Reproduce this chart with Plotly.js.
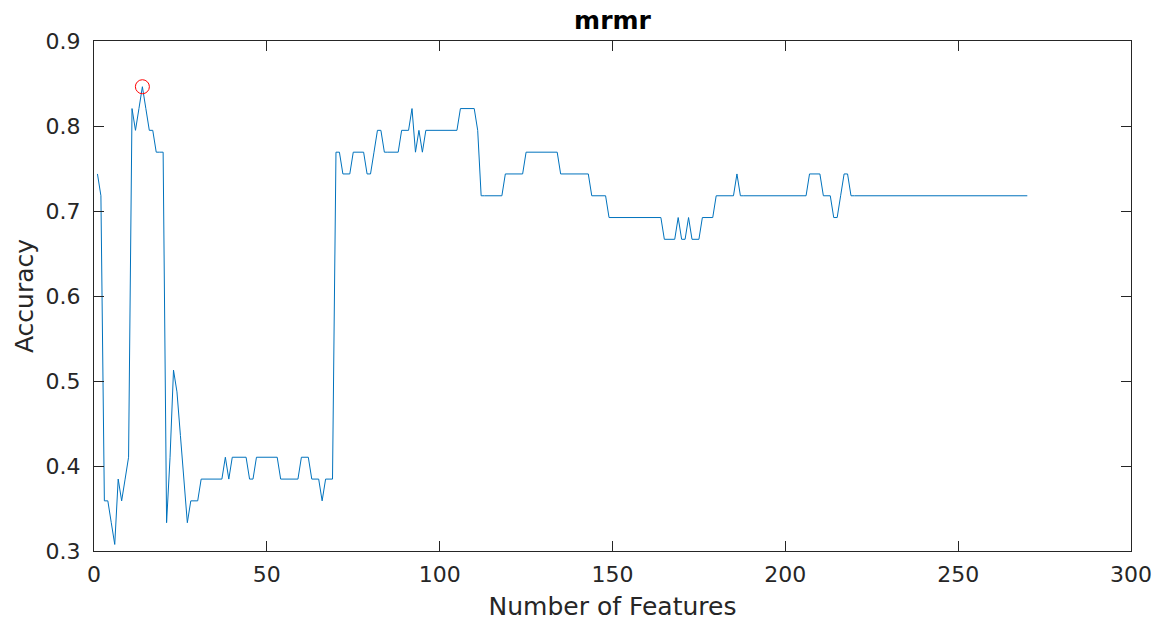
<!DOCTYPE html>
<html>
<head>
<meta charset="utf-8">
<script src="https://cdn.plot.ly/plotly-3.0.1.min.js"></script>
<style>
  html, body { margin: 0; padding: 0; background: #fff; }
  #chart { width: 1163px; height: 622px; }
</style>
</head>
<body>
<div id="chart"></div>
<script>
// Classification accuracy for each number of selected features (mRMR ranking)
const accuracy = [
  0.7436,0.7179,0.3590,0.3590,0.3333,0.3077,0.3846,0.3590,0.3846,0.4103,
  0.8205,0.7949,0.8205,0.8462,0.8205,0.7949,0.7949,0.7692,0.7692,0.7692,
  0.3333,0.4103,0.5128,0.4872,0.4359,0.3846,0.3333,0.3590,0.3590,0.3590,
  0.3846,0.3846,0.3846,0.3846,0.3846,0.3846,0.3846,0.4103,0.3846,0.4103,
  0.4103,0.4103,0.4103,0.4103,0.3846,0.3846,0.4103,0.4103,0.4103,0.4103,
  0.4103,0.4103,0.4103,0.3846,0.3846,0.3846,0.3846,0.3846,0.3846,0.4103,
  0.4103,0.4103,0.3846,0.3846,0.3846,0.3590,0.3846,0.3846,0.3846,0.7692,
  0.7692,0.7436,0.7436,0.7436,0.7692,0.7692,0.7692,0.7692,0.7436,0.7436,
  0.7692,0.7949,0.7949,0.7692,0.7692,0.7692,0.7692,0.7692,0.7949,0.7949,
  0.7949,0.8205,0.7692,0.7949,0.7692,0.7949,0.7949,0.7949,0.7949,0.7949,
  0.7949,0.7949,0.7949,0.7949,0.7949,0.8205,0.8205,0.8205,0.8205,0.8205,
  0.7949,0.7179,0.7179,0.7179,0.7179,0.7179,0.7179,0.7179,0.7436,0.7436,
  0.7436,0.7436,0.7436,0.7436,0.7692,0.7692,0.7692,0.7692,0.7692,0.7692,
  0.7692,0.7692,0.7692,0.7692,0.7436,0.7436,0.7436,0.7436,0.7436,0.7436,
  0.7436,0.7436,0.7436,0.7179,0.7179,0.7179,0.7179,0.7179,0.6923,0.6923,
  0.6923,0.6923,0.6923,0.6923,0.6923,0.6923,0.6923,0.6923,0.6923,0.6923,
  0.6923,0.6923,0.6923,0.6923,0.6667,0.6667,0.6667,0.6667,0.6923,0.6667,
  0.6667,0.6923,0.6667,0.6667,0.6667,0.6923,0.6923,0.6923,0.6923,0.7179,
  0.7179,0.7179,0.7179,0.7179,0.7179,0.7436,0.7179,0.7179,0.7179,0.7179,
  0.7179,0.7179,0.7179,0.7179,0.7179,0.7179,0.7179,0.7179,0.7179,0.7179,
  0.7179,0.7179,0.7179,0.7179,0.7179,0.7179,0.7436,0.7436,0.7436,0.7436,
  0.7179,0.7179,0.7179,0.6923,0.6923,0.7179,0.7436,0.7436,0.7179,0.7179,
  0.7179,0.7179,0.7179,0.7179,0.7179,0.7179,0.7179,0.7179,0.7179,0.7179,
  0.7179,0.7179,0.7179,0.7179,0.7179,0.7179,0.7179,0.7179,0.7179,0.7179,
  0.7179,0.7179,0.7179,0.7179,0.7179,0.7179,0.7179,0.7179,0.7179,0.7179,
  0.7179,0.7179,0.7179,0.7179,0.7179,0.7179,0.7179,0.7179,0.7179,0.7179,
  0.7179,0.7179,0.7179,0.7179,0.7179,0.7179,0.7179,0.7179,0.7179,0.7179
];
// Number of features used: 1, 2, ..., N
const featureCount = accuracy.map((_, i) => i + 1);

const xTicks = [0, 50, 100, 150, 200, 250, 300];
const yTicks = [0.3, 0.4, 0.5, 0.6, 0.7, 0.8, 0.9];
const yTickText = ['0.3', '0.4', '0.5', '0.6', '0.7', '0.8', '0.9'];

// Best result, highlighted with a circle
let bestIdx = 0;
accuracy.forEach((v, i) => { if (v > accuracy[bestIdx]) bestIdx = i; });

const axisColor = '#262626';
const tickFont = { family: 'DejaVu Sans, sans-serif', size: 22, color: axisColor };
const labelFont = { family: 'DejaVu Sans, sans-serif', size: 25, color: axisColor };

const traces = [
  {
    x: featureCount, y: accuracy, type: 'scatter', mode: 'lines',
    line: { color: '#0072BD', width: 1 }, hoverinfo: 'x+y'
  },
  {
    x: [featureCount[bestIdx]], y: [accuracy[bestIdx]], type: 'scatter', mode: 'markers',
    marker: { symbol: 'circle-open', size: 14, color: '#FF0000', line: { width: 1, color: '#FF0000' } }
  }
];

const layout = {
  width: 1163, height: 622,
  margin: { l: 94, r: 32, t: 41, b: 71 },
  paper_bgcolor: '#ffffff', plot_bgcolor: '#ffffff',
  showlegend: false,
  font: tickFont,
  title: {
    text: '<b>mrmr</b>', font: { family: 'DejaVu Sans, sans-serif', size: 25, color: '#000' },
    x: 0.5, xref: 'paper', xanchor: 'center', y: 1 - 20 / 622, yref: 'container', yanchor: 'middle'
  },
  xaxis: {
    range: [0, 300], tickvals: xTicks, ticktext: xTicks.map(String),
    ticks: 'inside', ticklen: 10, tickcolor: axisColor, tickwidth: 1,
    showline: true, linecolor: axisColor, linewidth: 1, mirror: 'ticks',
    showgrid: false, zeroline: false,
    tickfont: tickFont, ticklabelstandoff: 4,
    title: { text: 'Number of Features', font: labelFont, standoff: 11 }
  },
  yaxis: {
    range: [0.3, 0.9], tickvals: yTicks, ticktext: yTickText,
    ticks: 'inside', ticklen: 10, tickcolor: axisColor, tickwidth: 1,
    showline: true, linecolor: axisColor, linewidth: 1, mirror: 'ticks',
    showgrid: false, zeroline: false,
    tickfont: tickFont, ticklabelstandoff: 8,
    title: { text: 'Accuracy', font: labelFont, standoff: 4 }
  }
};

Plotly.newPlot('chart', traces, layout, { displayModeBar: false, staticPlot: true });
</script>
</body>
</html>
